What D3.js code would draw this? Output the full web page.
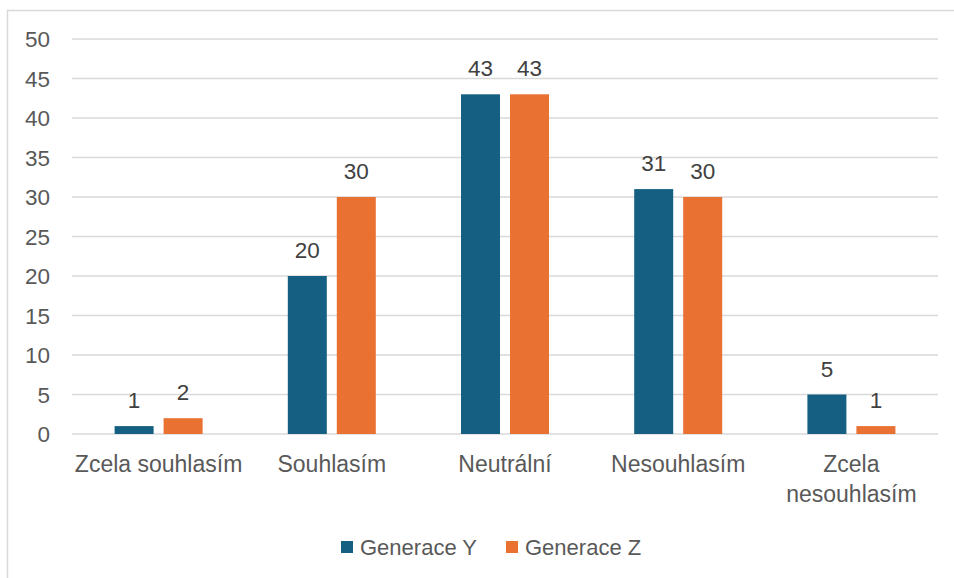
<!DOCTYPE html>
<html><head><meta charset="utf-8">
<script src="https://cdn.jsdelivr.net/npm/d3@7"></script>
<style>
html,body{margin:0;padding:0;background:#fff;}
svg{display:block;font-family:"Liberation Sans",Arial,sans-serif;}
</style></head>
<body><svg id="c" width="954" height="578"></svg>
<script>
const categories = ["Zcela souhlasím","Souhlasím","Neutrální","Nesouhlasím","Zcela nesouhlasím"];
const categoryLines = [["Zcela souhlasím"],["Souhlasím"],["Neutrální"],["Nesouhlasím"],["Zcela","nesouhlasím"]];
const seriesNames = ["Generace Y","Generace Z"];
const generaceY = [1,20,43,31,5];
const generaceZ = [2,30,43,30,1];
const yTicks = [0,5,10,15,20,25,30,35,40,45,50];
const colors = ["#156082","#E97132"];

const svg = d3.select("#c");
const textColor = "#595959";
const fs = 22.5;

// chart border
svg.append("rect").attr("x",7.5).attr("y",10.5).attr("width",960).attr("height",600)
  .attr("fill","none").attr("stroke","#d9d9d9").attr("stroke-width",1.5);

const x = d3.scaleBand().domain(categories).range([72,938]).paddingInner(0).paddingOuter(0);
const y = d3.scaleLinear().domain([0,50]).range([434,39]);
const xs = d3.scaleBand().domain(seriesNames).range([0,88]).paddingInner(10/49);

// gridlines
svg.append("g").selectAll("line").data(yTicks).join("line")
  .attr("x1",72).attr("x2",938).attr("y1",d=>y(d)).attr("y2",d=>y(d))
  .attr("stroke","#d9d9d9").attr("stroke-width",1.5);

// y tick labels
svg.append("g").selectAll("text").data(yTicks).join("text")
  .attr("x",50).attr("y",d=>y(d)).attr("dy","0.36em").attr("text-anchor","end")
  .attr("font-size",fs).attr("fill",textColor).text(d=>d);

const series = [generaceY, generaceZ];
series.forEach((vals,si)=>{
  const g = svg.append("g");
  g.selectAll("rect").data(vals).join("rect")
    .attr("x",(d,i)=>x(categories[i]) + x.bandwidth()/2 - 44 + xs(seriesNames[si]))
    .attr("y",d=>y(d)).attr("width",xs.bandwidth()).attr("height",d=>y(0)-y(d))
    .attr("fill",colors[si]);
  g.selectAll("text").data(vals).join("text")
    .attr("x",(d,i)=>x(categories[i]) + x.bandwidth()/2 - 44 + xs(seriesNames[si]) + xs.bandwidth()/2)
    .attr("y",d=>y(d)-18).attr("text-anchor","middle")
    .attr("font-size",fs).attr("fill","#404040").text(d=>d);
});

// category labels
categoryLines.forEach((lines,i)=>{
  const t = svg.append("text").attr("text-anchor","middle").attr("font-size",23).attr("fill",textColor);
  lines.forEach((l,j)=>{
    t.append("tspan").attr("x",x(categories[i])+x.bandwidth()/2).attr("y",472 + j*29.5).text(l);
  });
});

// legend
const legendX = [341,506];
seriesNames.forEach((n,i)=>{
  svg.append("rect").attr("x",legendX[i]).attr("y",541).attr("width",12).attr("height",12).attr("fill",colors[i]);
  svg.append("text").attr("x",legendX[i]+19).attr("y",555).attr("font-size",22).attr("fill",textColor).text(n);
});
</script></body></html>
